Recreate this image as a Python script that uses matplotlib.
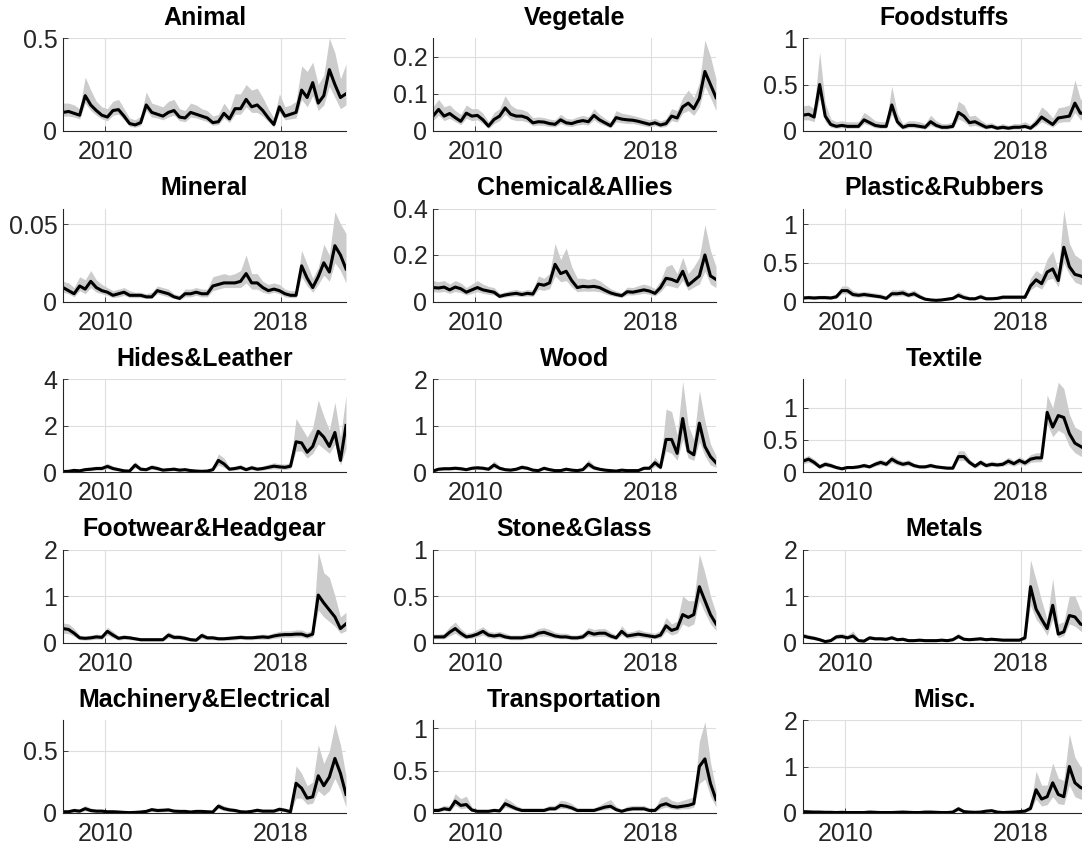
import matplotlib
matplotlib.use("Agg")
import matplotlib.pyplot as plt
import numpy as np

plt.rcParams['font.family'] = ['Liberation Sans', 'DejaVu Sans']

# quarterly samples, Feb 2008 .. Dec 2020
t_start, t_end = 2008.08, 2020.96

animal_mid = [0.10, 0.105, 0.095, 0.085, 0.19, 0.14, 0.11, 0.085, 0.075, 0.11, 0.115, 0.08, 0.04, 0.033, 0.045, 0.14, 0.10, 0.09, 0.08, 0.10, 0.11, 0.075, 0.07, 0.10, 0.09, 0.08, 0.07, 0.045, 0.05, 0.095, 0.065, 0.12, 0.12, 0.17, 0.13, 0.14, 0.11, 0.07, 0.035, 0.13, 0.08, 0.09, 0.10, 0.22, 0.18, 0.26, 0.15, 0.19, 0.33, 0.25, 0.18, 0.20]
animal_hi = [0.15, 0.15, 0.14, 0.12, 0.29, 0.22, 0.16, 0.13, 0.12, 0.16, 0.17, 0.12, 0.07, 0.06, 0.08, 0.21, 0.15, 0.14, 0.13, 0.16, 0.17, 0.12, 0.11, 0.15, 0.14, 0.12, 0.11, 0.08, 0.09, 0.15, 0.11, 0.2, 0.2, 0.25, 0.22, 0.23, 0.18, 0.12, 0.07, 0.2, 0.13, 0.14, 0.16, 0.35, 0.32, 0.37, 0.25, 0.3, 0.5, 0.42, 0.28, 0.36]
animal_lo = [0.08, 0.08, 0.075, 0.065, 0.15, 0.11, 0.085, 0.065, 0.055, 0.085, 0.09, 0.06, 0.025, 0.02, 0.03, 0.11, 0.075, 0.07, 0.06, 0.075, 0.085, 0.055, 0.05, 0.075, 0.07, 0.06, 0.05, 0.03, 0.035, 0.07, 0.045, 0.09, 0.09, 0.13, 0.1, 0.1, 0.08, 0.05, 0.02, 0.1, 0.06, 0.065, 0.07, 0.17, 0.13, 0.19, 0.11, 0.14, 0.24, 0.18, 0.12, 0.14]

vegetale_mid = [0.04, 0.058, 0.04, 0.047, 0.036, 0.026, 0.048, 0.04, 0.042, 0.03, 0.013, 0.031, 0.04, 0.062, 0.045, 0.04, 0.04, 0.035, 0.022, 0.025, 0.024, 0.02, 0.018, 0.03, 0.022, 0.02, 0.025, 0.028, 0.025, 0.042, 0.03, 0.022, 0.014, 0.036, 0.032, 0.03, 0.029, 0.026, 0.022, 0.018, 0.022, 0.016, 0.02, 0.04, 0.035, 0.065, 0.075, 0.06, 0.088, 0.16, 0.125, 0.09]
vegetale_hi = [0.065, 0.085, 0.065, 0.07, 0.055, 0.045, 0.07, 0.06, 0.06, 0.048, 0.025, 0.05, 0.06, 0.095, 0.07, 0.06, 0.058, 0.052, 0.036, 0.038, 0.036, 0.032, 0.03, 0.045, 0.034, 0.032, 0.038, 0.042, 0.038, 0.06, 0.045, 0.034, 0.025, 0.055, 0.048, 0.045, 0.042, 0.038, 0.034, 0.03, 0.034, 0.027, 0.033, 0.06, 0.055, 0.09, 0.11, 0.09, 0.13, 0.245, 0.2, 0.14]
vegetale_lo = [0.028, 0.042, 0.028, 0.034, 0.025, 0.017, 0.034, 0.028, 0.03, 0.02, 0.007, 0.02, 0.028, 0.045, 0.032, 0.028, 0.028, 0.024, 0.014, 0.016, 0.015, 0.012, 0.011, 0.02, 0.014, 0.012, 0.016, 0.018, 0.016, 0.03, 0.02, 0.014, 0.008, 0.025, 0.022, 0.02, 0.02, 0.017, 0.014, 0.011, 0.014, 0.01, 0.012, 0.028, 0.024, 0.048, 0.055, 0.042, 0.065, 0.12, 0.09, 0.055]

food_mid = [0.17, 0.18, 0.15, 0.5, 0.16, 0.07, 0.05, 0.06, 0.05, 0.05, 0.05, 0.12, 0.09, 0.06, 0.05, 0.05, 0.28, 0.1, 0.04, 0.06, 0.06, 0.05, 0.04, 0.1, 0.06, 0.04, 0.04, 0.05, 0.2, 0.16, 0.09, 0.1, 0.07, 0.04, 0.05, 0.03, 0.04, 0.03, 0.04, 0.04, 0.05, 0.03, 0.08, 0.15, 0.11, 0.07, 0.14, 0.15, 0.16, 0.3, 0.19, 0.2]
food_hi = [0.27, 0.28, 0.24, 0.85, 0.3, 0.13, 0.1, 0.11, 0.1, 0.1, 0.1, 0.2, 0.16, 0.11, 0.1, 0.1, 0.48, 0.19, 0.08, 0.11, 0.11, 0.1, 0.08, 0.17, 0.11, 0.08, 0.08, 0.1, 0.32, 0.28, 0.16, 0.17, 0.12, 0.08, 0.09, 0.06, 0.08, 0.06, 0.08, 0.08, 0.1, 0.07, 0.14, 0.26, 0.21, 0.14, 0.25, 0.26, 0.28, 0.55, 0.34, 0.35]
food_lo = [0.12, 0.12, 0.1, 0.35, 0.1, 0.04, 0.03, 0.035, 0.03, 0.03, 0.03, 0.08, 0.06, 0.035, 0.03, 0.03, 0.18, 0.06, 0.02, 0.035, 0.035, 0.03, 0.02, 0.06, 0.035, 0.02, 0.02, 0.03, 0.13, 0.1, 0.05, 0.06, 0.04, 0.02, 0.03, 0.015, 0.02, 0.015, 0.02, 0.02, 0.03, 0.015, 0.05, 0.1, 0.07, 0.04, 0.09, 0.1, 0.1, 0.2, 0.12, 0.12]

mineral_mid = [0.009, 0.007, 0.005, 0.01, 0.008, 0.013, 0.009, 0.007, 0.006, 0.004, 0.005, 0.006, 0.004, 0.004, 0.004, 0.003, 0.003, 0.007, 0.006, 0.005, 0.003, 0.002, 0.005, 0.005, 0.006, 0.005, 0.005, 0.01, 0.011, 0.012, 0.012, 0.012, 0.013, 0.018, 0.012, 0.012, 0.009, 0.007, 0.008, 0.007, 0.005, 0.004, 0.004, 0.023, 0.015, 0.009, 0.016, 0.025, 0.019, 0.036, 0.03, 0.021]
mineral_hi = [0.013, 0.012, 0.009, 0.016, 0.014, 0.02, 0.014, 0.011, 0.009, 0.007, 0.008, 0.009, 0.007, 0.006, 0.006, 0.005, 0.006, 0.01, 0.009, 0.008, 0.005, 0.004, 0.008, 0.008, 0.009, 0.008, 0.008, 0.016, 0.017, 0.018, 0.017, 0.018, 0.02, 0.03, 0.018, 0.018, 0.013, 0.011, 0.012, 0.011, 0.008, 0.007, 0.007, 0.033, 0.024, 0.015, 0.022, 0.037, 0.03, 0.058, 0.05, 0.044]
mineral_lo = [0.006, 0.005, 0.003, 0.007, 0.005, 0.009, 0.006, 0.005, 0.004, 0.0025, 0.003, 0.004, 0.0025, 0.0025, 0.0025, 0.002, 0.002, 0.005, 0.004, 0.003, 0.002, 0.001, 0.003, 0.003, 0.004, 0.003, 0.003, 0.007, 0.008, 0.009, 0.009, 0.009, 0.009, 0.012, 0.008, 0.008, 0.006, 0.005, 0.006, 0.005, 0.003, 0.0025, 0.0025, 0.016, 0.01, 0.006, 0.011, 0.017, 0.013, 0.025, 0.02, 0.012]

chem_mid = [0.06, 0.058, 0.062, 0.05, 0.062, 0.055, 0.04, 0.05, 0.06, 0.05, 0.045, 0.04, 0.022, 0.028, 0.032, 0.035, 0.03, 0.035, 0.032, 0.075, 0.07, 0.08, 0.16, 0.12, 0.13, 0.09, 0.06, 0.065, 0.063, 0.065, 0.06, 0.048, 0.037, 0.03, 0.025, 0.042, 0.04, 0.045, 0.05, 0.045, 0.035, 0.06, 0.1, 0.095, 0.085, 0.13, 0.07, 0.09, 0.11, 0.2, 0.11, 0.095]
chem_hi = [0.09, 0.085, 0.09, 0.075, 0.09, 0.08, 0.06, 0.075, 0.09, 0.075, 0.065, 0.06, 0.035, 0.042, 0.048, 0.052, 0.045, 0.052, 0.048, 0.11, 0.1, 0.12, 0.25, 0.18, 0.23, 0.15, 0.1, 0.1, 0.095, 0.1, 0.09, 0.072, 0.055, 0.045, 0.038, 0.062, 0.06, 0.068, 0.075, 0.068, 0.055, 0.09, 0.15, 0.16, 0.12, 0.19, 0.12, 0.15, 0.19, 0.33, 0.22, 0.15]
chem_lo = [0.042, 0.04, 0.043, 0.035, 0.043, 0.038, 0.028, 0.035, 0.042, 0.035, 0.031, 0.028, 0.015, 0.019, 0.022, 0.024, 0.021, 0.024, 0.022, 0.052, 0.048, 0.055, 0.11, 0.085, 0.09, 0.062, 0.042, 0.045, 0.044, 0.045, 0.042, 0.033, 0.026, 0.021, 0.017, 0.029, 0.028, 0.031, 0.035, 0.031, 0.024, 0.042, 0.07, 0.065, 0.058, 0.09, 0.048, 0.062, 0.075, 0.13, 0.075, 0.06]

plastic_mid = [0.045, 0.05, 0.045, 0.05, 0.05, 0.045, 0.06, 0.14, 0.14, 0.09, 0.08, 0.09, 0.08, 0.07, 0.06, 0.04, 0.1, 0.1, 0.11, 0.08, 0.1, 0.06, 0.03, 0.02, 0.015, 0.02, 0.03, 0.04, 0.08, 0.05, 0.035, 0.035, 0.06, 0.035, 0.035, 0.04, 0.055, 0.055, 0.055, 0.055, 0.055, 0.2, 0.28, 0.23, 0.38, 0.42, 0.27, 0.7, 0.45, 0.35, 0.33, 0.3]
plastic_hi = [0.075, 0.08, 0.075, 0.08, 0.08, 0.075, 0.1, 0.2, 0.2, 0.14, 0.12, 0.13, 0.12, 0.11, 0.1, 0.07, 0.15, 0.15, 0.16, 0.12, 0.15, 0.1, 0.055, 0.04, 0.035, 0.04, 0.055, 0.07, 0.13, 0.09, 0.065, 0.065, 0.1, 0.065, 0.065, 0.07, 0.09, 0.09, 0.09, 0.09, 0.09, 0.3, 0.4, 0.35, 0.55, 0.65, 0.4, 1.18, 0.75, 0.6, 0.55, 0.5]
plastic_lo = [0.03, 0.033, 0.03, 0.033, 0.033, 0.03, 0.04, 0.1, 0.1, 0.06, 0.055, 0.06, 0.055, 0.048, 0.04, 0.025, 0.07, 0.07, 0.075, 0.055, 0.07, 0.04, 0.018, 0.01, 0.008, 0.01, 0.018, 0.025, 0.055, 0.033, 0.022, 0.022, 0.04, 0.022, 0.022, 0.025, 0.035, 0.035, 0.035, 0.035, 0.035, 0.15, 0.2, 0.16, 0.28, 0.3, 0.19, 0.5, 0.35, 0.25, 0.22, 0.2]

hides_mid = [0.02, 0.03, 0.07, 0.05, 0.1, 0.12, 0.15, 0.15, 0.24, 0.15, 0.1, 0.05, 0.04, 0.3, 0.12, 0.1, 0.2, 0.15, 0.08, 0.1, 0.12, 0.08, 0.1, 0.06, 0.04, 0.03, 0.04, 0.1, 0.5, 0.35, 0.12, 0.15, 0.2, 0.1, 0.18, 0.12, 0.15, 0.2, 0.25, 0.22, 0.2, 0.25, 1.3, 1.25, 0.85, 1.1, 1.75, 1.5, 1.1, 1.7, 0.5, 2.0]
hides_hi = [0.08, 0.09, 0.14, 0.12, 0.2, 0.22, 0.25, 0.26, 0.38, 0.26, 0.18, 0.12, 0.1, 0.45, 0.22, 0.18, 0.32, 0.26, 0.16, 0.18, 0.22, 0.16, 0.18, 0.12, 0.1, 0.08, 0.1, 0.2, 0.78, 0.6, 0.22, 0.26, 0.32, 0.2, 0.3, 0.22, 0.26, 0.33, 0.4, 0.36, 0.34, 0.4, 2.3, 1.9, 1.5, 1.9, 3.1, 2.4, 1.8, 3.0, 1.5, 3.3]
hides_lo = [0.0, 0.0, 0.03, 0.02, 0.05, 0.06, 0.08, 0.08, 0.14, 0.08, 0.05, 0.02, 0.01, 0.18, 0.06, 0.05, 0.11, 0.08, 0.04, 0.05, 0.06, 0.04, 0.05, 0.03, 0.01, 0.01, 0.01, 0.05, 0.3, 0.2, 0.06, 0.08, 0.11, 0.05, 0.1, 0.06, 0.08, 0.11, 0.14, 0.12, 0.11, 0.14, 0.9, 0.9, 0.6, 0.8, 1.2, 1.0, 0.8, 1.2, 0.3, 1.0]

wood_mid = [0.02, 0.06, 0.07, 0.07, 0.08, 0.07, 0.05, 0.08, 0.09, 0.08, 0.06, 0.15, 0.08, 0.05, 0.04, 0.06, 0.1, 0.08, 0.04, 0.03, 0.08, 0.05, 0.03, 0.03, 0.06, 0.04, 0.03, 0.05, 0.17, 0.09, 0.06, 0.04, 0.03, 0.02, 0.04, 0.03, 0.03, 0.03, 0.08, 0.08, 0.2, 0.1, 0.7, 0.7, 0.4, 1.15, 0.45, 0.37, 1.05, 0.55, 0.33, 0.2]
wood_hi = [0.06, 0.1, 0.12, 0.12, 0.13, 0.12, 0.09, 0.13, 0.14, 0.13, 0.1, 0.24, 0.13, 0.09, 0.08, 0.1, 0.16, 0.13, 0.08, 0.06, 0.13, 0.09, 0.06, 0.06, 0.1, 0.08, 0.06, 0.09, 0.27, 0.15, 0.1, 0.08, 0.06, 0.05, 0.08, 0.06, 0.06, 0.06, 0.13, 0.13, 0.32, 0.17, 1.35, 1.3, 0.8, 1.95, 1.0, 0.7, 1.75, 1.1, 0.6, 0.35]
wood_lo = [0.0, 0.03, 0.04, 0.04, 0.05, 0.04, 0.03, 0.05, 0.05, 0.05, 0.03, 0.09, 0.05, 0.03, 0.02, 0.03, 0.06, 0.05, 0.02, 0.01, 0.05, 0.03, 0.01, 0.01, 0.03, 0.02, 0.01, 0.03, 0.1, 0.05, 0.03, 0.02, 0.01, 0.0, 0.02, 0.01, 0.01, 0.01, 0.05, 0.05, 0.12, 0.06, 0.45, 0.4, 0.25, 0.7, 0.3, 0.25, 0.65, 0.35, 0.15, 0.1]

textile_mid = [0.17, 0.2, 0.15, 0.08, 0.12, 0.1, 0.07, 0.05, 0.07, 0.07, 0.08, 0.1, 0.08, 0.12, 0.15, 0.12, 0.2, 0.15, 0.12, 0.14, 0.1, 0.08, 0.08, 0.1, 0.08, 0.07, 0.06, 0.06, 0.24, 0.24, 0.15, 0.09, 0.15, 0.1, 0.12, 0.11, 0.12, 0.17, 0.13, 0.18, 0.14, 0.2, 0.22, 0.22, 0.93, 0.7, 0.88, 0.85, 0.6, 0.45, 0.4, 0.35]
textile_hi = [0.22, 0.26, 0.2, 0.12, 0.17, 0.14, 0.1, 0.08, 0.1, 0.1, 0.11, 0.14, 0.11, 0.17, 0.2, 0.17, 0.26, 0.2, 0.17, 0.19, 0.14, 0.11, 0.11, 0.14, 0.11, 0.1, 0.09, 0.09, 0.33, 0.33, 0.2, 0.13, 0.2, 0.14, 0.17, 0.15, 0.17, 0.23, 0.18, 0.24, 0.19, 0.27, 0.3, 0.3, 1.2, 1.0, 1.4, 1.3, 0.9, 0.7, 0.65, 0.6]
textile_lo = [0.13, 0.15, 0.11, 0.05, 0.09, 0.07, 0.05, 0.03, 0.05, 0.05, 0.06, 0.07, 0.06, 0.09, 0.11, 0.09, 0.15, 0.11, 0.09, 0.1, 0.07, 0.06, 0.06, 0.07, 0.06, 0.05, 0.04, 0.04, 0.18, 0.18, 0.11, 0.06, 0.11, 0.07, 0.09, 0.08, 0.09, 0.12, 0.09, 0.13, 0.1, 0.15, 0.16, 0.16, 0.75, 0.55, 0.65, 0.6, 0.4, 0.3, 0.25, 0.2]

footwear_mid = [0.3, 0.28, 0.2, 0.1, 0.09, 0.1, 0.12, 0.11, 0.24, 0.16, 0.09, 0.11, 0.1, 0.08, 0.06, 0.06, 0.06, 0.06, 0.06, 0.16, 0.11, 0.11, 0.09, 0.06, 0.05, 0.15, 0.1, 0.1, 0.08, 0.08, 0.09, 0.1, 0.11, 0.1, 0.1, 0.11, 0.12, 0.11, 0.14, 0.16, 0.17, 0.17, 0.18, 0.18, 0.14, 0.18, 1.02, 0.85, 0.7, 0.55, 0.3, 0.4]
footwear_hi = [0.42, 0.4, 0.3, 0.16, 0.14, 0.16, 0.18, 0.17, 0.33, 0.24, 0.14, 0.17, 0.15, 0.12, 0.1, 0.1, 0.1, 0.1, 0.1, 0.23, 0.17, 0.17, 0.14, 0.1, 0.09, 0.22, 0.15, 0.15, 0.13, 0.13, 0.14, 0.15, 0.17, 0.15, 0.15, 0.17, 0.18, 0.17, 0.21, 0.24, 0.25, 0.25, 0.27, 0.27, 0.22, 0.27, 1.95, 1.5, 1.4, 1.0, 0.55, 0.65]
footwear_lo = [0.2, 0.19, 0.13, 0.06, 0.05, 0.06, 0.07, 0.07, 0.16, 0.1, 0.05, 0.07, 0.06, 0.05, 0.03, 0.03, 0.03, 0.03, 0.03, 0.1, 0.07, 0.07, 0.05, 0.03, 0.03, 0.09, 0.06, 0.06, 0.05, 0.05, 0.05, 0.06, 0.07, 0.06, 0.06, 0.07, 0.07, 0.07, 0.09, 0.1, 0.11, 0.11, 0.12, 0.12, 0.09, 0.12, 0.7, 0.55, 0.45, 0.35, 0.2, 0.25]

stone_mid = [0.06, 0.06, 0.06, 0.11, 0.15, 0.1, 0.06, 0.07, 0.09, 0.12, 0.08, 0.07, 0.08, 0.06, 0.05, 0.05, 0.05, 0.06, 0.07, 0.1, 0.11, 0.09, 0.07, 0.06, 0.06, 0.05, 0.05, 0.06, 0.11, 0.09, 0.1, 0.1, 0.07, 0.05, 0.12, 0.07, 0.08, 0.09, 0.08, 0.07, 0.06, 0.08, 0.18, 0.13, 0.15, 0.3, 0.27, 0.3, 0.6, 0.45, 0.3, 0.2]
stone_hi = [0.09, 0.09, 0.1, 0.17, 0.22, 0.15, 0.1, 0.11, 0.14, 0.17, 0.12, 0.11, 0.12, 0.1, 0.08, 0.08, 0.08, 0.1, 0.11, 0.15, 0.16, 0.14, 0.11, 0.1, 0.1, 0.08, 0.08, 0.1, 0.16, 0.14, 0.15, 0.15, 0.11, 0.08, 0.18, 0.11, 0.12, 0.14, 0.12, 0.11, 0.1, 0.13, 0.27, 0.2, 0.23, 0.5, 0.45, 0.45, 0.95, 0.75, 0.5, 0.32]
stone_lo = [0.04, 0.04, 0.04, 0.07, 0.1, 0.06, 0.04, 0.045, 0.06, 0.08, 0.05, 0.045, 0.05, 0.04, 0.03, 0.03, 0.03, 0.04, 0.045, 0.065, 0.07, 0.06, 0.045, 0.04, 0.04, 0.03, 0.03, 0.04, 0.07, 0.06, 0.065, 0.065, 0.045, 0.03, 0.08, 0.045, 0.05, 0.06, 0.05, 0.045, 0.04, 0.05, 0.12, 0.08, 0.1, 0.2, 0.17, 0.2, 0.45, 0.32, 0.2, 0.13]

metals_mid = [0.14, 0.11, 0.09, 0.06, 0.02, 0.04, 0.12, 0.13, 0.1, 0.14, 0.04, 0.03, 0.1, 0.08, 0.08, 0.07, 0.1, 0.06, 0.07, 0.04, 0.04, 0.05, 0.04, 0.04, 0.04, 0.05, 0.04, 0.06, 0.13, 0.07, 0.06, 0.07, 0.08, 0.06, 0.07, 0.06, 0.05, 0.05, 0.05, 0.05, 0.1, 1.2, 0.72, 0.5, 0.3, 0.8, 0.18, 0.23, 0.58, 0.55, 0.4, 0.35]
metals_hi = [0.2, 0.17, 0.14, 0.1, 0.05, 0.08, 0.18, 0.2, 0.16, 0.25, 0.08, 0.06, 0.15, 0.13, 0.13, 0.11, 0.16, 0.1, 0.11, 0.08, 0.08, 0.09, 0.08, 0.08, 0.08, 0.09, 0.08, 0.1, 0.2, 0.11, 0.1, 0.11, 0.12, 0.1, 0.11, 0.1, 0.09, 0.09, 0.09, 0.09, 0.18, 1.78, 1.35, 0.9, 0.5, 1.38, 0.4, 0.45, 1.0, 1.0, 0.7, 0.6]
metals_lo = [0.1, 0.08, 0.06, 0.04, 0.01, 0.02, 0.08, 0.09, 0.07, 0.1, 0.02, 0.01, 0.07, 0.05, 0.05, 0.04, 0.07, 0.04, 0.04, 0.02, 0.02, 0.03, 0.02, 0.02, 0.02, 0.03, 0.02, 0.04, 0.09, 0.04, 0.04, 0.04, 0.05, 0.04, 0.04, 0.04, 0.03, 0.03, 0.03, 0.03, 0.06, 0.8, 0.5, 0.35, 0.15, 0.5, 0.1, 0.15, 0.4, 0.35, 0.25, 0.2]

machinery_mid = [0.01, 0.01, 0.02, 0.015, 0.035, 0.02, 0.015, 0.015, 0.01, 0.01, 0.008, 0.005, 0.003, 0.005, 0.008, 0.013, 0.027, 0.02, 0.022, 0.025, 0.015, 0.013, 0.013, 0.008, 0.013, 0.013, 0.01, 0.008, 0.055, 0.035, 0.025, 0.02, 0.01, 0.008, 0.013, 0.022, 0.015, 0.015, 0.015, 0.03, 0.022, 0.01, 0.24, 0.2, 0.12, 0.13, 0.3, 0.22, 0.29, 0.44, 0.32, 0.15]
machinery_hi = [0.025, 0.025, 0.04, 0.03, 0.06, 0.04, 0.03, 0.03, 0.025, 0.025, 0.02, 0.015, 0.012, 0.015, 0.02, 0.028, 0.045, 0.038, 0.04, 0.043, 0.03, 0.028, 0.028, 0.02, 0.028, 0.028, 0.025, 0.02, 0.08, 0.058, 0.045, 0.038, 0.025, 0.02, 0.028, 0.04, 0.03, 0.03, 0.03, 0.05, 0.04, 0.025, 0.38, 0.32, 0.22, 0.25, 0.55, 0.4, 0.5, 0.72, 0.55, 0.3]
machinery_lo = [0.003, 0.003, 0.008, 0.005, 0.018, 0.008, 0.005, 0.005, 0.003, 0.003, 0.002, 0.001, 0.0, 0.001, 0.002, 0.005, 0.014, 0.008, 0.01, 0.012, 0.005, 0.005, 0.005, 0.002, 0.005, 0.005, 0.003, 0.002, 0.035, 0.018, 0.012, 0.008, 0.003, 0.002, 0.005, 0.01, 0.005, 0.005, 0.005, 0.015, 0.01, 0.003, 0.12, 0.12, 0.07, 0.08, 0.18, 0.14, 0.18, 0.28, 0.18, 0.05]

transport_mid = [0.03, 0.03, 0.05, 0.04, 0.14, 0.09, 0.1, 0.035, 0.02, 0.02, 0.02, 0.03, 0.025, 0.11, 0.08, 0.05, 0.03, 0.03, 0.03, 0.03, 0.03, 0.05, 0.05, 0.09, 0.08, 0.06, 0.03, 0.03, 0.03, 0.03, 0.05, 0.07, 0.08, 0.04, 0.02, 0.04, 0.05, 0.05, 0.05, 0.03, 0.03, 0.09, 0.11, 0.08, 0.07, 0.08, 0.09, 0.11, 0.55, 0.64, 0.35, 0.16]
transport_hi = [0.06, 0.06, 0.09, 0.08, 0.23, 0.17, 0.2, 0.07, 0.04, 0.04, 0.04, 0.06, 0.05, 0.18, 0.14, 0.09, 0.06, 0.06, 0.06, 0.06, 0.06, 0.09, 0.09, 0.15, 0.14, 0.11, 0.06, 0.06, 0.06, 0.06, 0.09, 0.13, 0.16, 0.08, 0.04, 0.08, 0.09, 0.09, 0.09, 0.06, 0.06, 0.18, 0.2, 0.15, 0.13, 0.15, 0.17, 0.19, 0.85, 1.08, 0.6, 0.28]
transport_lo = [0.015, 0.015, 0.03, 0.02, 0.09, 0.05, 0.06, 0.02, 0.01, 0.01, 0.01, 0.015, 0.012, 0.07, 0.05, 0.03, 0.015, 0.015, 0.015, 0.015, 0.015, 0.03, 0.03, 0.055, 0.05, 0.035, 0.015, 0.015, 0.015, 0.015, 0.03, 0.04, 0.05, 0.02, 0.01, 0.02, 0.03, 0.03, 0.03, 0.015, 0.015, 0.05, 0.07, 0.05, 0.04, 0.05, 0.05, 0.07, 0.35, 0.4, 0.2, 0.07]

misc_mid = [0.03, 0.025, 0.02, 0.02, 0.015, 0.015, 0.01, 0.015, 0.01, 0.01, 0.01, 0.01, 0.02, 0.015, 0.01, 0.01, 0.01, 0.015, 0.02, 0.015, 0.01, 0.01, 0.02, 0.02, 0.015, 0.01, 0.01, 0.02, 0.09, 0.03, 0.02, 0.015, 0.02, 0.04, 0.05, 0.02, 0.01, 0.015, 0.02, 0.03, 0.04, 0.1, 0.5, 0.3, 0.35, 0.65, 0.4, 0.35, 1.0, 0.65, 0.55, 0.5]
misc_hi = [0.06, 0.05, 0.045, 0.045, 0.04, 0.04, 0.03, 0.04, 0.03, 0.03, 0.03, 0.03, 0.045, 0.04, 0.03, 0.03, 0.03, 0.04, 0.045, 0.04, 0.03, 0.03, 0.045, 0.045, 0.04, 0.03, 0.03, 0.045, 0.15, 0.06, 0.045, 0.04, 0.045, 0.07, 0.09, 0.045, 0.03, 0.04, 0.045, 0.06, 0.08, 0.18, 0.9, 0.6, 0.6, 1.08, 0.75, 0.7, 1.7, 1.2, 1.0, 0.9]
misc_lo = [0.01, 0.008, 0.005, 0.005, 0.003, 0.003, 0.0, 0.003, 0.0, 0.0, 0.0, 0.0, 0.005, 0.003, 0.0, 0.0, 0.0, 0.003, 0.005, 0.003, 0.0, 0.0, 0.005, 0.005, 0.003, 0.0, 0.0, 0.005, 0.05, 0.01, 0.005, 0.003, 0.005, 0.02, 0.025, 0.005, 0.0, 0.003, 0.005, 0.01, 0.02, 0.05, 0.3, 0.15, 0.18, 0.35, 0.2, 0.18, 0.6, 0.35, 0.3, 0.25]

titles = ['Animal', 'Vegetale', 'Foodstuffs', 'Mineral', 'Chemical&Allies',
          'Plastic&Rubbers', 'Hides&Leather', 'Wood', 'Textile',
          'Footwear&Headgear', 'Stone&Glass', 'Metals',
          'Machinery&Electrical', 'Transportation', 'Misc.']
series = [(animal_mid, animal_lo, animal_hi),
          (vegetale_mid, vegetale_lo, vegetale_hi),
          (food_mid, food_lo, food_hi),
          (mineral_mid, mineral_lo, mineral_hi),
          (chem_mid, chem_lo, chem_hi),
          (plastic_mid, plastic_lo, plastic_hi),
          (hides_mid, hides_lo, hides_hi),
          (wood_mid, wood_lo, wood_hi),
          (textile_mid, textile_lo, textile_hi),
          (footwear_mid, footwear_lo, footwear_hi),
          (stone_mid, stone_lo, stone_hi),
          (metals_mid, metals_lo, metals_hi),
          (machinery_mid, machinery_lo, machinery_hi),
          (transport_mid, transport_lo, transport_hi),
          (misc_mid, misc_lo, misc_hi)]
y_tops = [0.5, 0.25, 1, 0.06, 0.4, 1.2, 4, 2, 1.45, 2, 1, 2, 0.75, 1.1, 2]
y_ticks = [[0, 0.5], [0, 0.1, 0.2], [0, 0.5, 1], [0, 0.05], [0, 0.2, 0.4],
           [0, 0.5, 1], [0, 2, 4], [0, 1, 2], [0, 0.5, 1], [0, 1, 2],
           [0, 0.5, 1], [0, 1, 2], [0, 0.5], [0, 0.5, 1], [0, 1, 2]]
x_ticks = [2010, 2018]

W, H = 1082, 852
col_left = [63, 433, 803]
row_bottom = [131, 301.5, 472, 642.5, 813]
ax_w, ax_h = 283, 93
fs = 18
dark = '#262626'

fig = plt.figure(figsize=(W / 100, H / 100), dpi=100)

for i, (title, (mid, lo, hi)) in enumerate(zip(titles, series)):
    r, c = divmod(i, 3)
    ax = fig.add_axes([col_left[c] / W, (H - row_bottom[r]) / H, ax_w / W, ax_h / H])
    t = np.linspace(t_start, t_end, len(mid))
    ax.fill_between(t, lo, hi, color='#cccccc', lw=0)
    ax.plot(t, mid, color='k', lw=2.2)

    ax.set_xlim(t_start, t_end)
    ax.set_ylim(0, y_tops[i])
    ax.set_xticks(x_ticks)
    ax.set_xticklabels([str(v) for v in x_ticks])
    ax.set_yticks(y_ticks[i])
    ax.set_yticklabels(['%g' % v for v in y_ticks[i]])
    ax.grid(True, color='#dedede', lw=0.8)
    ax.set_axisbelow(True)
    for s in ['top', 'right']:
        ax.spines[s].set_visible(False)
    for s in ['left', 'bottom']:
        ax.spines[s].set_color(dark)
        ax.spines[s].set_linewidth(0.8)
    ax.tick_params(direction='in', length=3.5, width=0.6, colors=dark,
                   labelsize=fs)
    ax.tick_params(axis='x', pad=6.5)
    ax.tick_params(axis='y', pad=4)
    ax.set_title(title, fontsize=fs, fontweight='bold', color='k', pad=9.5)

fig.savefig('out.png', dpi=100)
